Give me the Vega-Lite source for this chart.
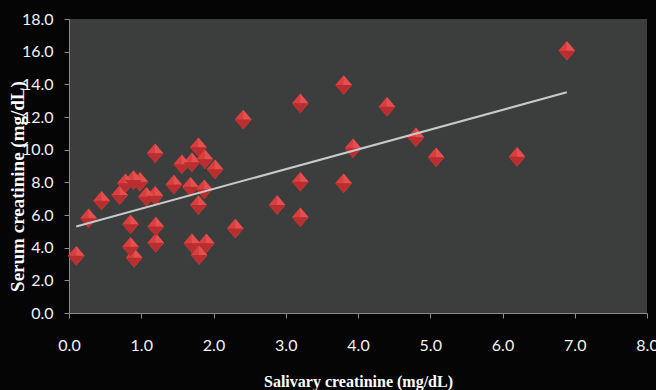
{
  "$schema": "https://vega.github.io/schema/vega-lite/v6.json",
  "width": 578,
  "height": 294,
  "autosize": {"type": "none"},
  "padding": {"left": 69, "top": 19, "right": 9, "bottom": 77},
  "background": "#050505",
  "config": {
    "view": {"fill": "#3c3d3d", "stroke": null},
    "axis": {
      "grid": false,
      "labelColor": "#f2f2f2",
      "labelFont": "Lato",
      "labelFontSize": 16,
      "labelOverlap": false,
      "labelFlush": false,
      "labelBound": false,
      "domainColor": "#8a8a8a",
      "tickColor": "#8a8a8a",
      "tickSize": 5,
      "titleColor": "#ffffff",
      "titleFont": "Liberation Serif",
      "titleFontWeight": "bold"
    }
  },
  "datasets": {
    "pts": [
      {"saliva": 0.10, "serum": 3.5},
      {"saliva": 0.27, "serum": 5.8},
      {"saliva": 0.45, "serum": 6.88},
      {"saliva": 0.70, "serum": 7.23},
      {"saliva": 0.78, "serum": 7.94},
      {"saliva": 0.89, "serum": 8.14},
      {"saliva": 0.98, "serum": 8.04},
      {"saliva": 0.85, "serum": 5.43},
      {"saliva": 0.85, "serum": 4.06},
      {"saliva": 0.90, "serum": 3.39},
      {"saliva": 1.07, "serum": 7.12},
      {"saliva": 1.19, "serum": 7.18},
      {"saliva": 1.19, "serum": 9.78},
      {"saliva": 1.20, "serum": 5.29},
      {"saliva": 1.20, "serum": 4.3},
      {"saliva": 1.45, "serum": 7.86},
      {"saliva": 1.56, "serum": 9.1},
      {"saliva": 1.70, "serum": 9.23},
      {"saliva": 1.79, "serum": 10.15},
      {"saliva": 1.88, "serum": 9.41},
      {"saliva": 2.02, "serum": 8.8},
      {"saliva": 1.68, "serum": 7.73},
      {"saliva": 1.87, "serum": 7.57},
      {"saliva": 1.79, "serum": 6.61},
      {"saliva": 1.70, "serum": 4.27},
      {"saliva": 1.90, "serum": 4.27},
      {"saliva": 1.80, "serum": 3.55},
      {"saliva": 2.30, "serum": 5.18},
      {"saliva": 2.41, "serum": 11.85},
      {"saliva": 2.88, "serum": 6.61},
      {"saliva": 3.20, "serum": 12.84},
      {"saliva": 3.20, "serum": 8.04},
      {"saliva": 3.20, "serum": 5.86},
      {"saliva": 3.80, "serum": 13.96},
      {"saliva": 3.80, "serum": 7.94},
      {"saliva": 3.93, "serum": 10.09},
      {"saliva": 4.40, "serum": 12.63},
      {"saliva": 4.80, "serum": 10.76},
      {"saliva": 5.08, "serum": 9.53},
      {"saliva": 6.20, "serum": 9.57},
      {"saliva": 6.89, "serum": 16.06}
    ],
    "trend": [
      {"saliva": 0.10, "serum": 5.3},
      {"saliva": 6.89, "serum": 13.51}
    ]
  },
  "encoding": {
    "x": {
      "field": "saliva",
      "type": "quantitative",
      "scale": {"domain": [0, 8], "nice": false, "zero": false},
      "axis": {
        "title": "Salivary creatinine (mg/dL)",
        "values": [0, 1, 2, 3, 4, 5, 6, 7, 8],
        "format": ".1f",
        "labelPadding": 19,
        "titleFontSize": 16,
        "titleY": 60,
        "titleBaseline": "top"
      }
    },
    "y": {
      "field": "serum",
      "type": "quantitative",
      "scale": {"domain": [0, 18], "nice": false, "zero": false},
      "axis": {
        "title": "Serum creatinine (mg/dL)",
        "values": [0, 2, 4, 6, 8, 10, 12, 14, 16, 18],
        "format": ".1f",
        "labelPadding": 11,
        "titleFontSize": 19,
        "titleX": -52,
        "titleY": 167,
        "titleBaseline": "middle"
      }
    }
  },
  "layer": [
    {
      "data": {"name": "pts"},
      "mark": {"type": "point", "shape": "M0,-1L0.85,0L0,1L-0.85,0Z", "size": 380, "filled": true, "fill": "#da3f3f", "opacity": 1, "strokeWidth": 0}
    },
    {
      "data": {"name": "pts"},
      "mark": {"type": "point", "shape": "M0,-1L0.85,0L0,1Z", "size": 380, "filled": true, "fill": "#e45050", "opacity": 1, "strokeWidth": 0}
    },
    {
      "data": {"name": "pts"},
      "mark": {"type": "point", "shape": "M-0.85,0L0.85,0L0,1Z", "size": 380, "filled": true, "fill": "#b92e2e", "opacity": 1, "strokeWidth": 0}
    },
    {
      "data": {"name": "trend"},
      "mark": {"type": "line", "color": "#c9c9c9", "strokeWidth": 2}
    }
  ]
}
